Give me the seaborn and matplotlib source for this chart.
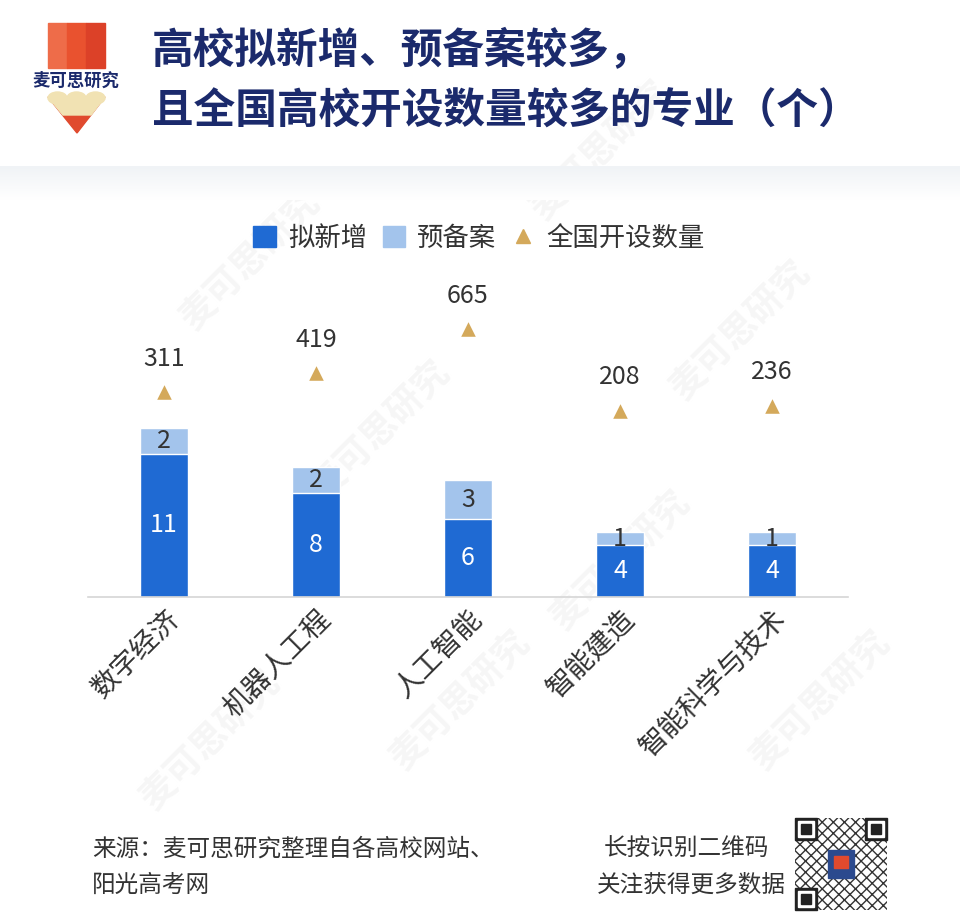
import numpy as np
import pandas as pd
import matplotlib.pyplot as plt
import seaborn as sns
from matplotlib.patches import Rectangle, Polygon, Ellipse, Patch
from matplotlib.lines import Line2D

# ---------------------------------------------------------------
# 数据
# ---------------------------------------------------------------
majors = ["数字经济", "机器人工程", "人工智能", "智能建造", "智能科学与技术"]
new_add = [11, 8, 6, 4, 4]          # 拟新增
filed = [2, 2, 3, 1, 1]             # 预备案
national = [311, 419, 665, 208, 236]  # 全国开设数量

df = pd.DataFrame({"专业": majors, "拟新增": new_add,
                   "预备案": filed, "全国开设数量": national})
df["合计"] = df["拟新增"] + df["预备案"]

# colores
DARK = "#1F6AD3"
LIGHT = "#A3C4EC"
GOLD = "#D4A95B"
NAVY = "#1B2A6C"
TXT = "#333333"

sns.set_theme(style="white")
plt.rcParams['font.family'] = ['Noto Sans CJK SC', 'DejaVu Sans']

W, H = 960, 917
fig = plt.figure(figsize=(9.6, 9.17), dpi=100)


def P(x, y):
    # pixel -> figure coords
    return (x / W, 1 - y / H)


# ---------------------------------------------------------------
# cabecera: logo + titulo
# ---------------------------------------------------------------
stripes = ["#EE6C49", "#E9522F", "#DC4128"]
for k, c in enumerate(stripes):
    x0 = 48 + k * 19
    fig.patches.append(Rectangle(P(x0, 68), 19 / W, 45 / H, color=c,
                                 transform=fig.transFigure))
fig.text(*P(76, 81), "麦可思研究", fontsize=12.5, color=NAVY,
         ha="center", va="center", weight="bold")
fig.patches.append(Polygon([P(48, 97), P(105, 97), P(77, 133)], closed=True,
                           color="#E04A2E", transform=fig.transFigure))
fig.patches.append(Polygon([P(48, 97), P(105, 97), P(91, 115), P(63, 115)],
                           closed=True, color="#F1E2B3", transform=fig.transFigure))
for cx in [57.5, 76.5, 95.5]:
    fig.patches.append(Ellipse(P(cx, 98), 19 / W, 12 / H, color="#F1E2B3",
                               transform=fig.transFigure))

fig.text(*P(152, 50), "高校拟新增、预备案较多，", fontsize=30, weight="bold",
         color=NAVY, ha="left", va="center")
fig.text(*P(152, 112), "且全国高校开设数量较多的专业（个）", fontsize=30,
         weight="bold", color=NAVY, ha="left", va="center")

# banda gris degradada
band = fig.add_axes([0, 1 - 200 / H, 1, 34 / H], zorder=-5)
grad = np.linspace(0, 1, 50).reshape(-1, 1)
band.imshow(grad, aspect="auto",
            cmap=sns.blend_palette(["#F0F3F6", "#FFFFFF"], as_cmap=True),
            extent=[0, 1, 0, 1])
band.axis("off")

# marcas de agua (muy suaves)
for (wx, wy) in [(250, 260), (380, 430), (600, 150), (740, 330), (620, 560),
                 (210, 740), (460, 700), (820, 700)]:
    fig.text(*P(wx, wy), "麦可思研究", fontsize=26, color="#F6F6F6", rotation=45,
             ha="center", va="center", weight="bold", zorder=-10)

# ---------------------------------------------------------------
# grafico de barras apiladas
# ---------------------------------------------------------------
ax = fig.add_axes([88 / W, 1 - 597 / H, 760 / W, 299 / H])
ax.patch.set_alpha(0)

sns.barplot(data=df, x="专业", y="合计", color=LIGHT, width=0.32,
            saturation=1, ax=ax)
sns.barplot(data=df, x="专业", y="拟新增", color=DARK, width=0.32,
            saturation=1, ax=ax)

ax.set_xlim(-0.5, len(majors) - 0.5)
ax.set_ylim(0, 23)
ax.set_xlabel("")
ax.set_ylabel("")
ax.set_yticks([])
for s in ["top", "left", "right"]:
    ax.spines[s].set_visible(False)
ax.spines["bottom"].set_color("#D6D6D6")
ax.spines["bottom"].set_linewidth(1.2)
ax.tick_params(axis="x", length=0, pad=5)
ax.set_xticks(range(len(majors)))
ax.set_xticklabels(majors, rotation=45, ha="right", va="top",
                   rotation_mode="anchor", fontsize=20, color=TXT)

for i in range(len(majors)):
    ax.text(i, new_add[i] / 2, str(new_add[i]), ha="center", va="center",
            color="white", fontsize=18)
    ax.text(i, new_add[i] + filed[i] / 2, str(filed[i]), ha="center",
            va="center", color=TXT, fontsize=18)

# eje secundario: triangulos
ax2 = ax.twinx()
sns.scatterplot(x=np.arange(len(majors)), y=national, marker="^", s=110,
                color=GOLD, linewidth=0, ax=ax2, legend=False)
ax2.set_ylim(-832, 838)
ax2.set_yticks([])
ax2.set_ylabel("")
for s in ax2.spines.values():
    s.set_visible(False)
for i, v in enumerate(national):
    ax2.annotate(str(v), (i, v), xytext=(0, 24), textcoords="offset points",
                 ha="center", va="center", fontsize=18, color=TXT)

# leyenda
handles = [Patch(color=DARK, label="拟新增"),
           Patch(color=LIGHT, label="预备案"),
           Line2D([], [], marker="^", color=GOLD, linestyle="none",
                  markersize=10, label="全国开设数量")]
fig.legend(handles=handles, loc="center", bbox_to_anchor=P(479, 238),
           ncol=3, frameon=False, fontsize=19, handlelength=0.85,
           handleheight=0.85, handletextpad=0.45, columnspacing=0.6,
           labelcolor=TXT)

# ---------------------------------------------------------------
# pie de pagina
# ---------------------------------------------------------------
fig.text(*P(92, 849), "来源：麦可思研究整理自各高校网站、", fontsize=17,
         color=TXT, ha="left", va="center")
fig.text(*P(92, 885), "阳光高考网", fontsize=17, color=TXT, ha="left", va="center")
fig.text(*P(686, 849), "长按识别二维码", fontsize=17, color=TXT,
         ha="center", va="center")
fig.text(*P(786, 885), "关注获得更多数据", fontsize=17, color=TXT,
         ha="right", va="center")

# codigo QR (aproximado)
qx, qy, qs = 795, 818, 92
fig.patches.append(Rectangle(P(qx, qy + qs), qs / W, qs / H, facecolor="white",
                             edgecolor="#333333", hatch="xxx", linewidth=0,
                             transform=fig.transFigure))
for (fx, fy) in [(qx, qy), (qx + qs - 22, qy), (qx, qy + qs - 22)]:
    fig.patches.append(Rectangle(P(fx, fy + 22), 22 / W, 22 / H, color="#222222",
                                 transform=fig.transFigure))
    fig.patches.append(Rectangle(P(fx + 3, fy + 19), 16 / W, 16 / H, color="white",
                                 transform=fig.transFigure))
    fig.patches.append(Rectangle(P(fx + 6, fy + 16), 10 / W, 10 / H, color="#222222",
                                 transform=fig.transFigure))
fig.patches.append(Rectangle(P(qx + 33, qy + 60), 26 / W, 28 / H, color="#2B4A8E",
                             transform=fig.transFigure))
fig.patches.append(Rectangle(P(qx + 39, qy + 50), 14 / W, 12 / H, color="#E04A2E",
                             transform=fig.transFigure))

fig.savefig("out.png", dpi=100, facecolor="white")
